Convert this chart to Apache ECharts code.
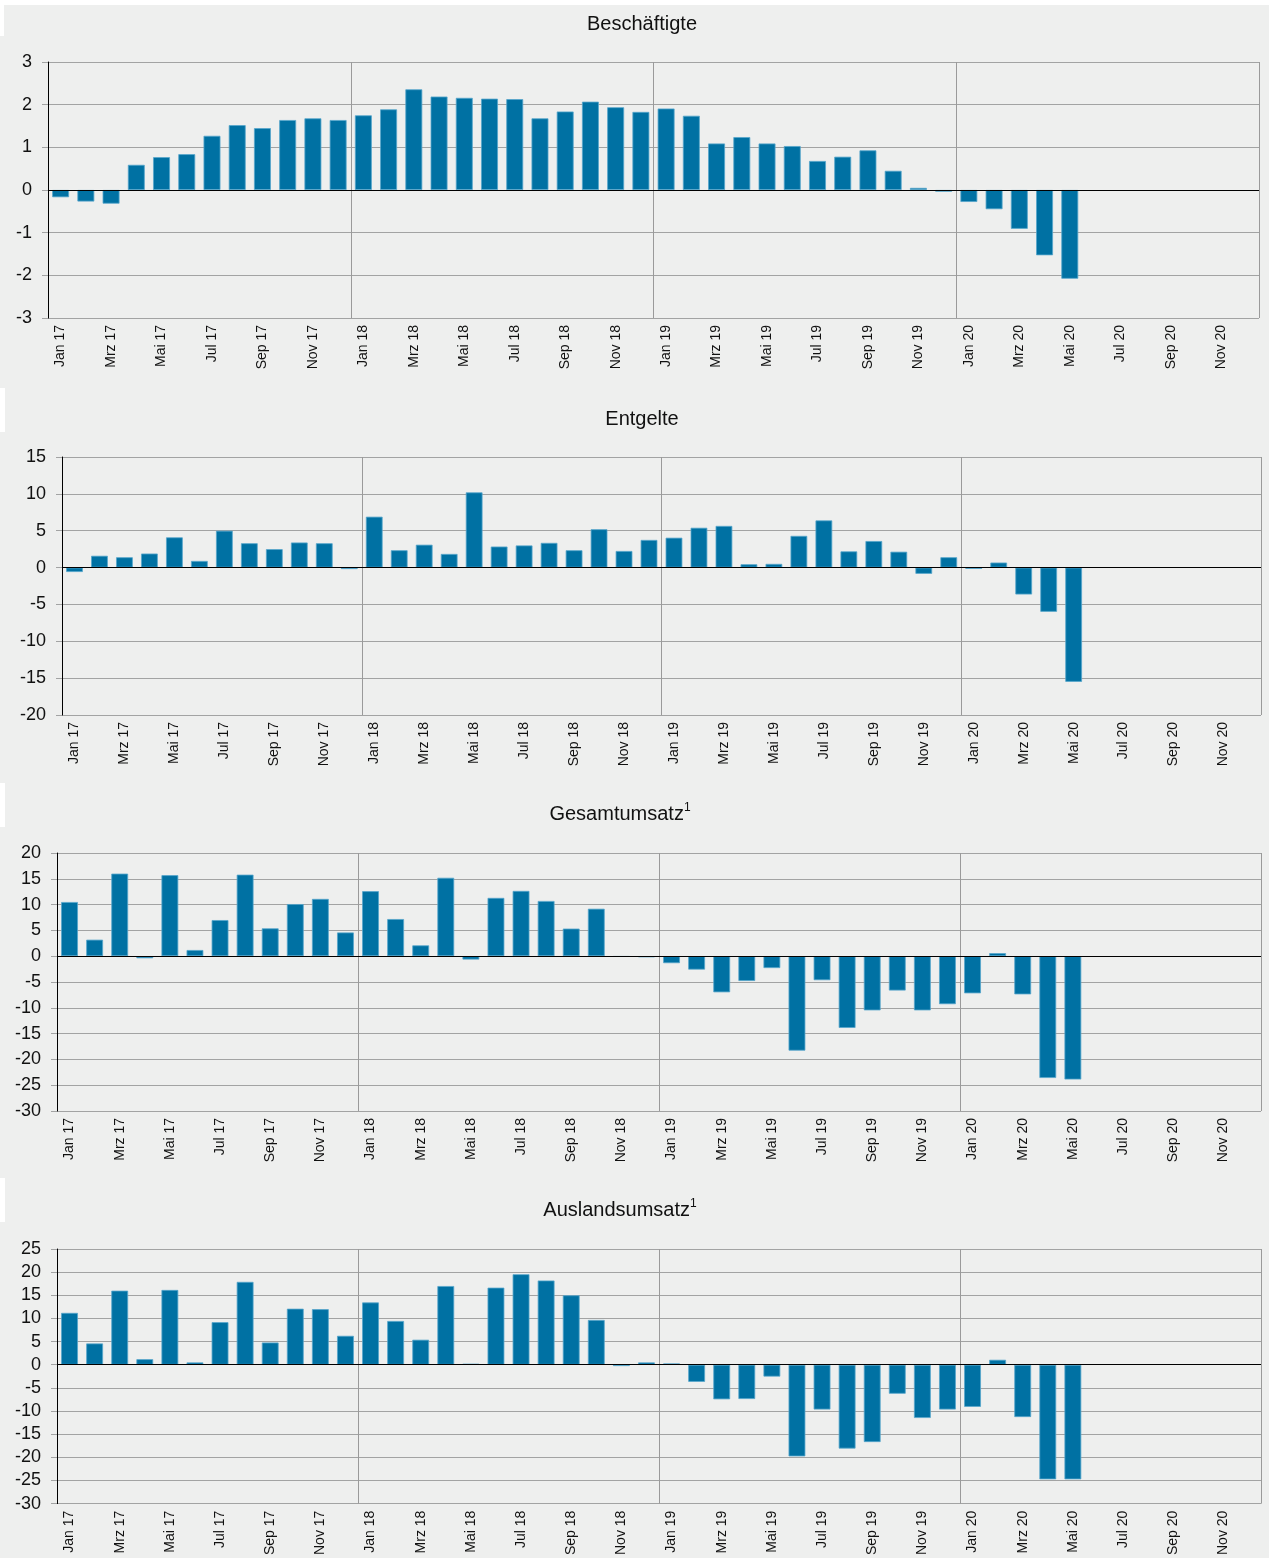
<!DOCTYPE html>
<html>
<head>
<meta charset="utf-8">
<script src="https://cdn.jsdelivr.net/npm/echarts@6/dist/echarts.min.js"></script>
<style>
    body { margin: 0; background: #fff; }
    #main { width: 1269px; height: 1558px; }
</style>
</head>
<body>
<div id="main"></div>
<script>
// Monate Jan 17 - Dez 20
var monate = ['Jan', 'Feb', 'Mrz', 'Apr', 'Mai', 'Jun', 'Jul', 'Aug', 'Sep', 'Okt', 'Nov', 'Dez'];
var jahre = ['17', '18', '19', '20'];

// Veraenderung ggü. Vorjahresmonat in %
var beschaeftigte = [-0.17, -0.27, -0.32, 0.59, 0.77, 0.84, 1.27, 1.52, 1.45, 1.64, 1.68, 1.64,
    1.75, 1.89, 2.36, 2.19, 2.16, 2.14, 2.13, 1.68, 1.84, 2.07, 1.94, 1.83,
    1.91, 1.74, 1.09, 1.24, 1.09, 1.03, 0.68, 0.78, 0.93, 0.45, 0.05, -0.04,
    -0.28, -0.45, -0.91, -1.53, -2.08, null, null, null, null, null, null, null];

var entgelte = [-0.6, 1.6, 1.4, 1.9, 4.1, 0.9, 5.0, 3.3, 2.5, 3.4, 3.3, -0.2,
    6.9, 2.35, 3.1, 1.85, 10.2, 2.85, 3.0, 3.35, 2.35, 5.2, 2.25, 3.75,
    4.05, 5.4, 5.65, 0.45, 0.5, 4.3, 6.4, 2.2, 3.6, 2.15, -0.85, 1.4,
    -0.18, 0.68, -3.65, -6.0, -15.5, null, null, null, null, null, null, null];

var gesamtumsatz = [10.5, 3.2, 16.0, -0.4, 15.7, 1.2, 7.0, 15.8, 5.4, 10.1, 11.1, 4.6,
    12.6, 7.2, 2.1, 15.2, -0.65, 11.3, 12.65, 10.7, 5.35, 9.2, -0.1, -0.2,
    -1.35, -2.6, -7.0, -4.8, -2.3, -18.3, -4.65, -13.9, -10.5, -6.65, -10.5, -9.3,
    -7.2, 0.6, -7.4, -23.6, -23.9, null, null, null, null, null, null, null];

var auslandsumsatz = [11.2, 4.6, 16.0, 1.2, 16.15, 0.5, 9.2, 17.9, 4.8, 12.1, 12.0, 6.25,
    13.45, 9.45, 5.4, 17.0, 0.2, 16.65, 19.55, 18.2, 15.0, 9.67, -0.28, 0.5,
    0.28, -3.7, -7.47, -7.4, -2.56, -19.8, -9.67, -18.1, -16.7, -6.26, -11.5, -9.67,
    -9.1, 1.07, -11.3, -24.75, -24.75, null, null, null, null, null, null, null];

var titel = ['Beschäftigte', 'Entgelte', '{t|Gesamtumsatz}{s|1}', '{t|Auslandsumsatz}{s|1}'];
var yMin = [-3, -20, -30, -30];
var yMax = [3, 15, 20, 25];
var yStep = [1, 5, 5, 5];

var kategorien = [];
jahre.forEach(function (j) {
    monate.forEach(function (m) { kategorien.push(m + ' ' + j); });
});

var font = 'Liberation Sans, Arial, sans-serif';
var blau = '#0071a3';
var grau = '#a2a3a3';

// Position der Panels (Pixel)
var panels = [
    {left: 48, top: 62, width: 1211, height: 256, titleX: 642, titleY: 14},
    {left: 62, top: 457, width: 1199, height: 258, titleX: 642, titleY: 409},
    {left: 57, top: 853, width: 1204, height: 258, titleX: 620, titleY: 802},
    {left: 57, top: 1249, width: 1204, height: 258, titleX: 620, titleY: 1198}
];

var option = {
    backgroundColor: '#eeefee',
    animation: false,
    title: [], grid: [], xAxis: [], yAxis: [], series: [],
    graphic: [
        {type: 'rect', shape: {x: 0, y: 0, width: 1269, height: 5}, style: {fill: '#fff'}},
        {type: 'rect', shape: {x: 0, y: 0, width: 4, height: 36}, style: {fill: '#fff'}},
        {type: 'rect', shape: {x: 0, y: 388, width: 5, height: 44}, style: {fill: '#fff'}},
        {type: 'rect', shape: {x: 0, y: 783, width: 5, height: 44}, style: {fill: '#fff'}},
        {type: 'rect', shape: {x: 0, y: 1178, width: 5, height: 44}, style: {fill: '#fff'}}
    ]
};

var daten = [beschaeftigte, entgelte, gesamtumsatz, auslandsumsatz];

panels.forEach(function (p, i) {
    option.title.push({
        text: titel[i],
        left: p.titleX,
        top: p.titleY,
        textAlign: 'center',
        padding: 0,
        textStyle: {
            fontFamily: font, fontSize: 20, fontWeight: 'normal', color: '#111',
            rich: {
                t: {fontFamily: font, fontSize: 20, color: '#111'},
                s: {fontFamily: font, fontSize: 12, color: '#111', verticalAlign: 'top', padding: [0, 0, 12, 0]}
            }
        }
    });
    option.grid.push({left: p.left, top: p.top, width: p.width, height: p.height});
    option.xAxis.push({
        type: 'category',
        gridIndex: i,
        data: kategorien,
        boundaryGap: true,
        axisLine: {show: false},
        axisTick: {show: false},
        axisLabel: {
            interval: 1, rotate: 90, margin: 7,
            fontFamily: font, fontSize: 14, color: '#111'
        },
        splitLine: {show: true, interval: 11, lineStyle: {color: '#9a9a9a', width: 1}}
    });
    option.yAxis.push({
        type: 'value',
        gridIndex: i,
        min: yMin[i], max: yMax[i], interval: yStep[i],
        axisLine: {show: true, lineStyle: {color: '#000', width: 1}},
        axisTick: {show: true, length: 6, lineStyle: {color: grau}},
        axisLabel: {margin: 16, fontFamily: font, fontSize: 18, color: '#111'},
        splitLine: {show: true, lineStyle: {color: grau, width: 1.2}}
    });
    option.series.push({
        type: 'bar',
        xAxisIndex: i, yAxisIndex: i,
        data: daten[i],
        barCategoryGap: '33%',
        itemStyle: {color: blau, borderColor: '#56a6cc', borderWidth: 0.8},
        markLine: {
            silent: true, symbol: 'none',
            label: {show: false},
            lineStyle: {color: '#000', type: 'solid', width: 1.2},
            data: [{yAxis: 0}]
        }
    });
});

var myChart = echarts.init(document.getElementById('main'));
myChart.setOption(option);
</script>
</body>
</html>
